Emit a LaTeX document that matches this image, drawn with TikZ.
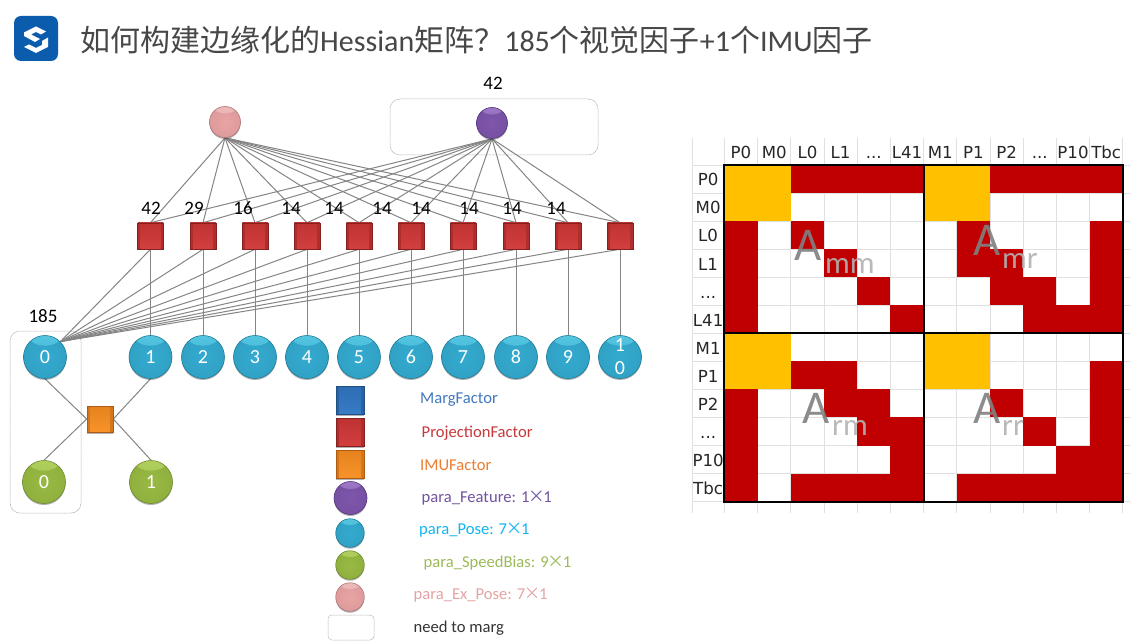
\documentclass[tikz,border=0pt]{standalone}
\usepackage{fontspec}
\setmainfont{Carlito}
\newfontfamily\cjkfont{Noto Sans CJK SC}
\newfontfamily\mtxfont{DejaVu Sans}
\usetikzlibrary{shadows,fadings,backgrounds}
\newcommand\fsz[1]{\fontsize{#1}{#1}\selectfont}
\newcommand\tdots{...}
\newcommand\tmul{{\kern-1.3pt\cjkfont ×\kern-1.3pt}}
\definecolor{poseC}{HTML}{34AACF}\definecolor{poseCL}{HTML}{6FE0F5}\definecolor{poseCD}{HTML}{1F7C99}
\definecolor{speedC}{HTML}{98B943}\definecolor{speedCL}{HTML}{C8E573}\definecolor{speedCD}{HTML}{6E8A2C}
\definecolor{pinkC}{HTML}{E8A3A3}\definecolor{pinkCL}{HTML}{F8D0D0}\definecolor{pinkCD}{HTML}{B37878}
\definecolor{purpC}{HTML}{7E56AB}\definecolor{purpCL}{HTML}{B896E0}\definecolor{purpCD}{HTML}{553680}
\definecolor{redC}{HTML}{CE3535}\definecolor{redCL}{HTML}{EC7070}\definecolor{redCD}{HTML}{842222}
\definecolor{orgC}{HTML}{F88C1E}\definecolor{orgCL}{HTML}{FFB860}\definecolor{orgCD}{HTML}{AC5C14}
\definecolor{bluC}{HTML}{2F74C0}\definecolor{bluCL}{HTML}{62A6EA}\definecolor{bluCD}{HTML}{1F4E84}
\definecolor{matRed}{HTML}{C00000}\definecolor{matYel}{HTML}{FFC000}
\tikzset{
  x=1pt,y=-1pt,
  softshadow/.style={general shadow={shadow xshift=0pt,shadow yshift=-1.5pt,fill=black,opacity=.3}},
  sphere/.style n args={2}{circle,inner sep=0pt,minimum size=#2,draw=#1D,line width=.6pt,
    inner color=#1,outer color=#1!82!#1D,softshadow,text=white,align=center,
    font=\fontsize{20}{23}\selectfont,
    path picture={\fill[#1L,opacity=.75,path fading=south] (path picture bounding box.north) ++(0,-1.0) ellipse [x radius=.40*#2, y radius=.26*#2];}},
  factor/.style n args={2}{rectangle,inner sep=0pt,minimum size=#2,draw=#1D,line width=.6pt,softshadow,
    path picture={
      \fill[#1D] (path picture bounding box.south west) rectangle (path picture bounding box.north east);
      \fill[#1L] (path picture bounding box.north west) -- (path picture bounding box.north east)
        -- ([shift={(-3,-3)}]path picture bounding box.north east) -- ([shift={(3,-3)}]path picture bounding box.north west) -- cycle;
      \fill[#1!85!black] (path picture bounding box.north west) -- ([shift={(3,-3)}]path picture bounding box.north west)
        -- ([shift={(3,3)}]path picture bounding box.south west) -- (path picture bounding box.south west) -- cycle;
      \fill[#1!85!black] (path picture bounding box.north east) -- ([shift={(-3,-3)}]path picture bounding box.north east)
        -- ([shift={(-3,3)}]path picture bounding box.south east) -- (path picture bounding box.south east) -- cycle;
      \shade[top color=#1!92!black,bottom color=#1!80!#1L] ([shift={(3,3)}]path picture bounding box.south west) rectangle ([shift={(-3,-3)}]path picture bounding box.north east);
    }},
  margbox/.style={rectangle,rounded corners=10pt,draw=black!32,dash pattern=on 1pt off .5pt,line width=.5pt,fill=white,inner sep=0pt},
  edge/.style={draw=black!48,line width=1pt},
  num/.style={font=\fsz{19},text=black,inner sep=0pt},
  legend/.style={anchor=west,inner sep=0pt,font=\fsz{16.6}},
  hdr/.style={font=\mtxfont\fsz{16.6},text=black!85,inner sep=0pt,text height=12pt,text depth=0pt},
  bigA/.style={anchor=base west,inner sep=0pt,font=\fsz{47},text=black!50,opacity=.9},
  subA/.style={anchor=base west,inner sep=0pt,font=\fsz{31},text=black!30,opacity=.9},
}
\begin{document}
\begin{tikzpicture}
\useasboundingbox (0,0) rectangle (1142,644);
% title and logo
\fill[fill={rgb,255:red,11;green,92;blue,173},rounded corners=7pt] (14,16) rectangle (58,61);
\fill[white] (36,26.5) -- (46,31.5) -- (41,34.5) -- (36,32) -- (31,34.5) -- (40,39) -- (35,42) -- (24,36) -- (24,32.5) -- cycle;
\fill[white] (48,37.5) -- (48,47) -- (36,53) -- (24,47) -- (29,44.5) -- (36,48) -- (42,45) -- (42,41) -- cycle;
\node[anchor=base west,inner sep=0pt,text=black!72,font=\fsz{30}] (title) at (80,52) {{\cjkfont 如何构建边缘化的}Hessian{\cjkfont 矩阵^^^^ff1f}185{\cjkfont 个视觉因子}+1{\cjkfont 个}IMU{\cjkfont 因子}};
% graph nodes
\node[sphere={pinkC}{31pt}] (pink) at (225,122) {};
\node[sphere={purpC}{31pt}] (purple) at (492,123) {};
\foreach \n/\x/\t/\lx in {1/150.5/42/151,2/203/29/194,3/255/16/243,4/307/14/291,5/359/14/334,6/411/14/382,7/463/14/421,8/516/14/469,9/568/14/512,10/620/14/556}{
  \node[factor={redC}{26pt}] (f\n) at (\x,236) {};
  \node[num] (c\n) at (\lx,208) {\t};
  \node[sphere={poseC}{43pt}] (pose\n) at (\x,357) {\ifnum\n=10 1\\0\else\n\fi};
}
\node[sphere={poseC}{43pt}] (pose0) at (45,357) {0};
\node[factor={orgC}{26pt}] (imu) at (100,419) {};
\node[sphere={speedC}{43pt}] (sp0) at (44,482) {0};
\node[sphere={speedC}{43pt}] (sp1) at (151,482) {1};
\node[num] (n185) at (43,316) {185};
\node[num] (n42) at (493,83) {42};
% background layer: page, marg boxes, edges
\begin{scope}[on background layer]
  \fill[white] (0,0) rectangle (1142,644);
  \node[margbox,minimum width=208pt,minimum height=56pt] (mbox1) at (494,127) {};
  \node[margbox,minimum width=71pt,minimum height=182pt] (mbox2) at (45.5,422) {};
  \foreach \n in {1,...,10}{
    \draw[edge] (pink.south) -- (f\n.north);
    \draw[edge] (purple.south) -- (f\n.north);
    \draw[edge] (f\n.south) -- (pose\n.north);
    \draw[edge] (f\n.south) -- (pose0.45);
  }
  \draw[edge] (pose0.south) -- (imu.west);
  \draw[edge] (pose1.south) -- (imu.east);
  \draw[edge] (sp0.north) -- (imu.west);
  \draw[edge] (sp1.north) -- (imu.east);
\end{scope}
% legend
\node[factor={bluC}{28pt}] (lg1) at (350,400) {};
\node[factor={redC}{28pt}] (lg2) at (350,432) {};
\node[factor={orgC}{28pt}] (lg3) at (350,464) {};
\node[sphere={purpC}{33pt}] (lg4) at (350.5,498) {};
\node[sphere={poseC}{28.5pt}] (lg5) at (350,533) {};
\node[sphere={speedC}{28.5pt}] (lg6) at (350,565) {};
\node[sphere={pinkC}{28.5pt}] (lg7) at (350,597) {};
\node[margbox,rounded corners=4pt,minimum width=46pt,minimum height=25pt] (lg8) at (351,627.5) {};
\node[legend,text={rgb,255:red,68;green,120;blue,190}] (t1) at (420,400) {MargFactor};
\node[legend,text={rgb,255:red,200;green,56;blue,58}] (t2) at (421.5,433) {ProjectionFactor};
\node[legend,text={rgb,255:red,237;green,125;blue,49}] (t3) at (420,465) {IMUFactor};
\node[legend,text={rgb,255:red,112;green,84;blue,160}] (t4) at (421.5,498) {para\_Feature: 1\tmul 1};
\node[legend,text={rgb,255:red,20;green,180;blue,240}] (t5) at (419,530) {para\_Pose: 7\tmul 1};
\node[legend,text={rgb,255:red,155;green,187;blue,89}] (t6) at (423.5,563) {para\_SpeedBias: 9\tmul 1};
\node[legend,text={rgb,255:red,230;green,163;blue,163}] (t7) at (413.5,595) {para\_Ex\_Pose: 7\tmul 1};
\node[legend,text=black!80] (t8) at (413.5,628) {need to marg};
% matrix: x = 724.4 + 33.2 c, y = 165 + 28.05 r
\begin{scope}[shift={(724.4,165)},x=33.2pt,y=-28.05pt]
  \foreach \c in {0,...,12}{\draw[black!12,line width=.7pt] (\c,-0.96) -- (\c,12.4);}
  \draw[black!12,line width=.7pt] (-0.98,-0.96) -- (-0.98,12.4);
  \foreach \r in {0,...,12}{\draw[black!12,line width=.7pt] (-0.98,\r) -- (12.22,\r);}
  \foreach \a/\b in {0/0,6/0,0/6,6/6}{\fill[matYel] (\a,\b) rectangle ++(2,2);}
  \foreach \a/\b/\w/\h in {2/0/4/1, 8/0/4/1, 0/2/1/4, 2/2/1/1, 3/3/1/1, 4/4/1/1, 5/5/1/1,
      7/2/1/2, 8/3/1/2, 9/4/1/2, 9/5/3/1, 11/2/1/4,
      0/8/1/4, 2/7/2/1, 3/8/2/1, 4/9/2/1, 5/9/1/3, 2/11/4/1,
      8/8/1/1, 9/9/1/1, 10/10/2/1, 11/7/1/5, 7/11/5/1}{
    \fill[matRed] (\a,\b) rectangle ++(\w,\h);
  }
  \foreach \c/\t in {0/P0,1/M0,2/L0,3/L1,4/\tdots,5/L41,6/M1,7/P1,8/P2,9/\tdots,10/P10,11/Tbc}{
    \node[hdr] (colh\c) at (\c+.5,-.44) {\t};
  }
  \foreach \r/\t in {0/P0,1/M0,2/L0,3/L1,4/\tdots,5/L41,6/M1,7/P1,8/P2,9/\tdots,10/P10,11/Tbc}{
    \node[hdr] (rowh\r) at (-.49,\r+.53) {\t};
  }
  \draw[black,line width=2pt] (0,0) rectangle (12,12);
  \draw[black,line width=2pt] (6,0) -- (6,12);
  \draw[black,line width=2pt] (0,6) -- (12,6);
\end{scope}
\node[bigA] (a1) at (794,260) {A};\node[subA] (a1s) at (825,273) {mm};
\node[bigA] (a2) at (973,255) {A};\node[subA] (a2s) at (1002,268) {mr};
\node[bigA] (a3) at (802,423) {A};\node[subA] (a3s) at (832,435) {rm};
\node[bigA] (a4) at (973,423) {A};\node[subA] (a4s) at (1002,435) {rr};
\end{tikzpicture}
\end{document}
